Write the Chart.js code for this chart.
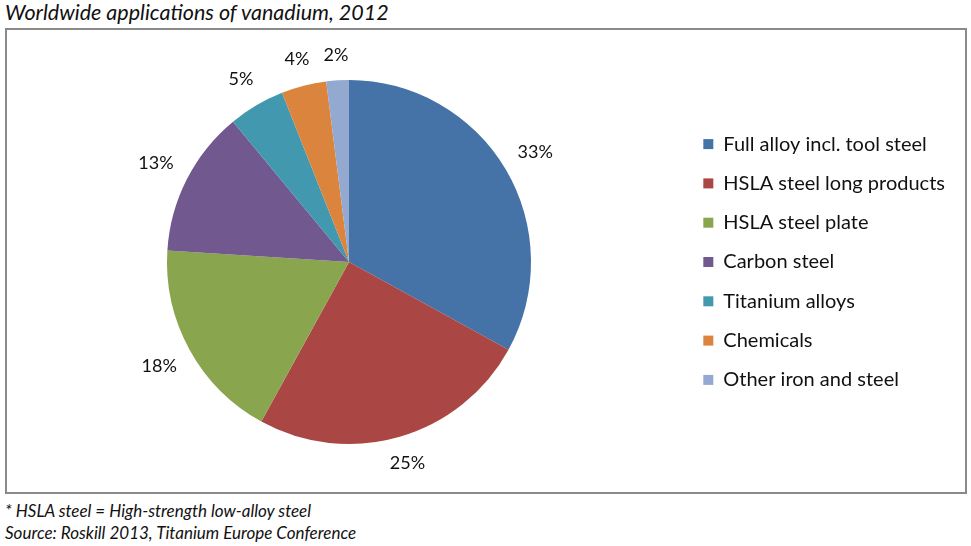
<!DOCTYPE html>
<html>
<head>
<meta charset="utf-8">
<script src="https://cdn.jsdelivr.net/npm/chart.js@4.4.1/dist/chart.umd.min.js"></script>
<style>
  html, body { margin: 0; padding: 0; background: #fff; }
  body { width: 971px; height: 546px; position: relative; overflow: hidden; font-family: Lato, "Open Sans", sans-serif; }
  #title { position: absolute; left: 5px; top: -1px; font-size: 21.5px; font-style: italic; color: #111; white-space: nowrap; }
  #box { position: absolute; left: 5px; top: 28px; width: 958px; height: 462px; border: 2px solid #8a8a8a; box-sizing: content-box; }
  #wrap { position: absolute; left: 0; top: 0; width: 958px; height: 462px; }
  .note { position: absolute; left: 5px; font-size: 17px; font-style: italic; color: #111; white-space: nowrap; }
</style>
</head>
<body>
<div id="title">Worldwide applications of vanadium, 2012</div>
<div id="box"><div id="wrap"><canvas id="c"></canvas></div></div>
<div class="note" style="top:500px">* HSLA steel = High-strength low-alloy steel</div>
<div class="note" style="top:522px">Source: Roskill 2013, Titanium Europe Conference</div>
<script>
const categories = ["Full alloy incl. tool steel", "HSLA steel long products", "HSLA steel plate", "Carbon steel", "Titanium alloys", "Chemicals", "Other iron and steel"];
const shares = [33, 25, 18, 13, 5, 4, 2];
const sliceColors = ["#4572A7", "#AA4643", "#89A54E", "#71588F", "#4198AF", "#DB843D", "#93A9CF"];

const FONT = "Lato, 'Open Sans', sans-serif";

const outsideLabels = {
  id: "outsideLabels",
  afterDatasetsDraw(chart) {
    const ctx = chart.ctx;
    const meta = chart.getDatasetMeta(0);
    ctx.save();
    ctx.font = "18px " + FONT;
    ctx.fillStyle = "#111";
    ctx.textAlign = "center";
    ctx.textBaseline = "middle";
    meta.data.forEach((arc, i) => {
      const p = arc.getProps(["x", "y", "startAngle", "endAngle", "outerRadius"], true);
      const mid = (p.startAngle + p.endAngle) / 2;
      const txt = shares[i] + "%";
      const R = p.outerRadius + 24 + 12 * Math.abs(Math.cos(mid));
      ctx.fillText(txt, p.x + Math.cos(mid) * R, p.y + Math.sin(mid) * R);
    });
    ctx.restore();
  }
};

new Chart(document.getElementById("c"), {
  type: "pie",
  data: {
    labels: categories,
    datasets: [{ data: shares, backgroundColor: sliceColors, borderColor: "#ffffff", borderWidth: 0 }]
  },
  options: {
    responsive: true,
    maintainAspectRatio: false,
    animation: false,
    layout: { padding: { top: 50, bottom: 48, left: 7, right: 10 } },
    plugins: {
      title: { display: false },
      tooltip: { enabled: false },
      legend: {
        position: "right",
        align: "center",
        labels: {
          boxWidth: 10,
          boxHeight: 10,
          padding: 19.3,
          color: "#111",
          font: { family: FONT, size: 20 }
        }
      }
    }
  },
  plugins: [outsideLabels]
});
</script>
</body>
</html>
